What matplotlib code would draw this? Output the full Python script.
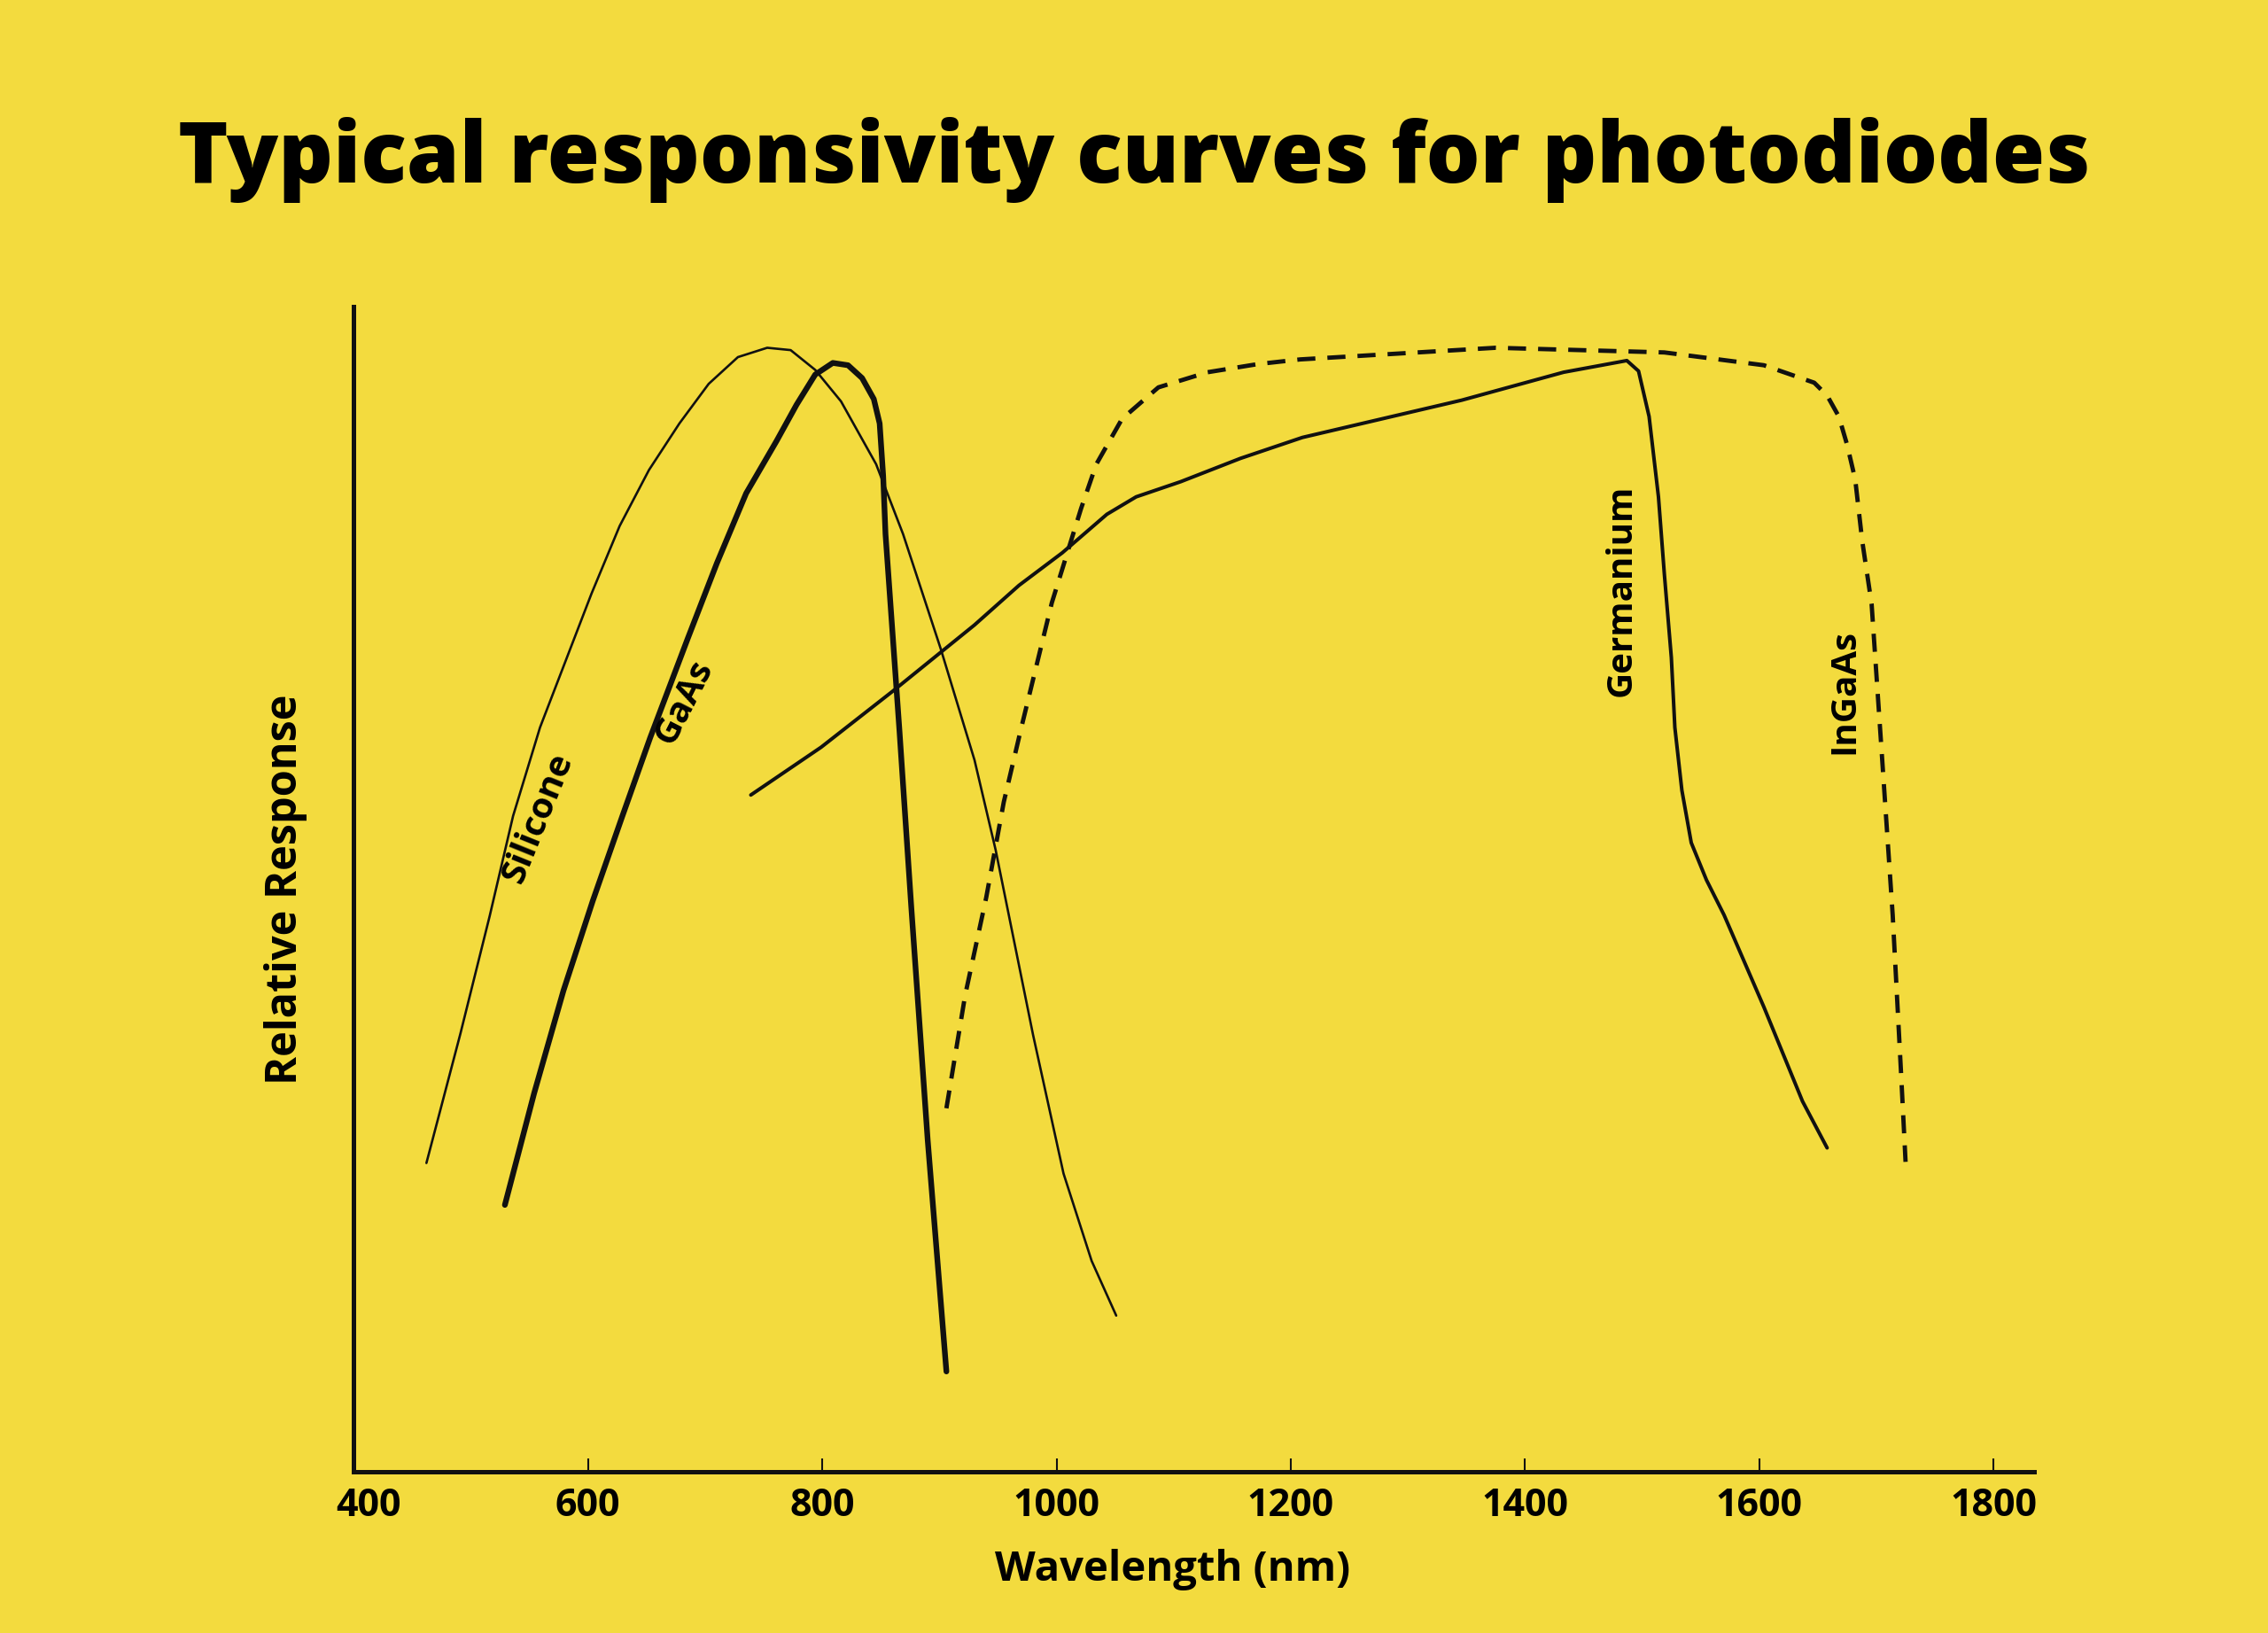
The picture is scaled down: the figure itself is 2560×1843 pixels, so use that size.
import matplotlib
matplotlib.use("agg")
import matplotlib.pyplot as plt
import matplotlib.transforms as mtransforms

# wavelength (nm) / relative response (%)
si_nm = [462, 491, 516, 536, 559, 603, 627, 652, 678, 703, 728, 753, 773, 794, 816, 846, 869, 901, 930, 948, 980, 1006, 1030, 1051]
si_resp = [26.5, 37.6, 47.7, 56.3, 63.9, 75.4, 81.2, 86.0, 90.0, 93.4, 95.7, 96.5, 96.3, 94.6, 91.9, 86.5, 80.5, 70.7, 61.1, 53.4, 37.5, 25.6, 18.1, 13.4]

gaas_nm = [529, 554, 579, 604, 629, 653, 685, 710, 735, 761, 778, 794, 809, 822, 834, 844, 849, 852, 854, 866, 876, 890, 906]
gaas_resp = [22.9, 32.5, 41.3, 49.0, 56.2, 63.0, 71.5, 78.0, 84.0, 88.5, 91.6, 94.2, 95.2, 95.0, 93.9, 92.1, 90.0, 85.5, 80.5, 63.5, 48.5, 28.5, 8.6]

ge_nm = [739, 799, 860, 930, 968, 1005, 1043, 1068, 1106, 1157, 1210, 1346, 1433, 1487, 1497, 1506, 1514, 1519, 1525, 1528, 1534, 1542, 1555, 1570, 1604, 1637, 1658]
ge_resp = [58.1, 62.2, 67.0, 72.7, 76.1, 78.9, 82.2, 83.7, 85.0, 87.0, 88.8, 92.0, 94.4, 95.4, 94.5, 90.6, 83.7, 77.1, 69.9, 63.9, 58.5, 54.0, 50.8, 47.8, 39.9, 31.8, 27.8]

ingaas_nm = [906, 922, 940, 955, 970, 996, 1021, 1034, 1056, 1087, 1129, 1172, 1208, 1375, 1519, 1604, 1647, 1658, 1668, 1675, 1682, 1688, 1696, 1705, 1714, 1721, 1725]
ingaas_resp = [31.2, 40.9, 49.3, 57.5, 63.9, 74.6, 82.7, 86.5, 90.4, 93.1, 94.4, 95.1, 95.5, 96.5, 96.1, 95.0, 93.5, 92.4, 90.6, 88.2, 85.2, 79.9, 74.5, 61.2, 47.8, 34.5, 26.6]

xticks = [400, 600, 800, 1000, 1200, 1400, 1600, 1800]

bg = "#f3db3e"
ink = "#111111"
font = "Open Sans"

fig = plt.figure(figsize=(25.6, 18.43), dpi=100, facecolor=bg)
ax = fig.add_axes([0.156, 0.0988, 0.741, 0.7132], facecolor=bg)

line_kw = dict(color=ink, solid_joinstyle="round", solid_capstyle="round")
ax.plot(si_nm, si_resp, lw=1.9, **line_kw)
ax.plot(gaas_nm, gaas_resp, lw=4.6, **line_kw)
ax.plot(ge_nm, ge_resp, lw=2.9, **line_kw)
ax.plot(ingaas_nm, ingaas_resp, color=ink, lw=3.5, linestyle=(0, (4.2, 2.8)),
        dash_capstyle="butt", dash_joinstyle="round")

ax.set_xlim(400, 1835)
ax.set_ylim(0, 100)
for s in ["top", "right"]:
    ax.spines[s].set_visible(False)
for s in ["left", "bottom"]:
    ax.spines[s].set_linewidth(3.6)
    ax.spines[s].set_color(ink)

ax.set_yticks([])
ax.set_xticks(xticks)
ax.set_xticklabels([str(t) for t in xticks], fontfamily=font, fontweight="bold", fontsize=31)
ax.tick_params(axis="x", direction="in", length=11, width=1.5, color=ink, pad=12)
# the "400" label sits a bit right of the spine
lab0 = ax.get_xticklabels()[0]
lab0.set_transform(lab0.get_transform() + mtransforms.ScaledTranslation(0.17, 0, fig.dpi_scale_trans))

ax.set_xlabel("Wavelength (nm)", fontfamily=font, fontweight="bold", fontsize=34)
ax.xaxis.set_label_coords(0.487, -0.066)
ax.set_ylabel("Relative Response", fontfamily=font, fontweight="bold", fontsize=35, labelpad=38)

# curve labels
lab_kw = dict(fontfamily=font, fontweight="bold", fontsize=29, ha="center", va="center", color="black")
ax.text(557, 56.1, "Silicone", rotation=68, **lab_kw)
ax.text(682, 66.1, "GaAs", rotation=63, **lab_kw)
ax.text(1482, 75.7, "Germanium", rotation=90, **lab_kw)
ax.text(1673, 67.0, "InGaAs", rotation=90, **lab_kw)

fig.text(0.5, 0.902, "Typical responsivity curves for photodiodes", ha="center", va="center",
         fontfamily=font, fontweight="heavy", fontsize=69, color="black")

fig.savefig("out.png", dpi=100, facecolor=bg)
